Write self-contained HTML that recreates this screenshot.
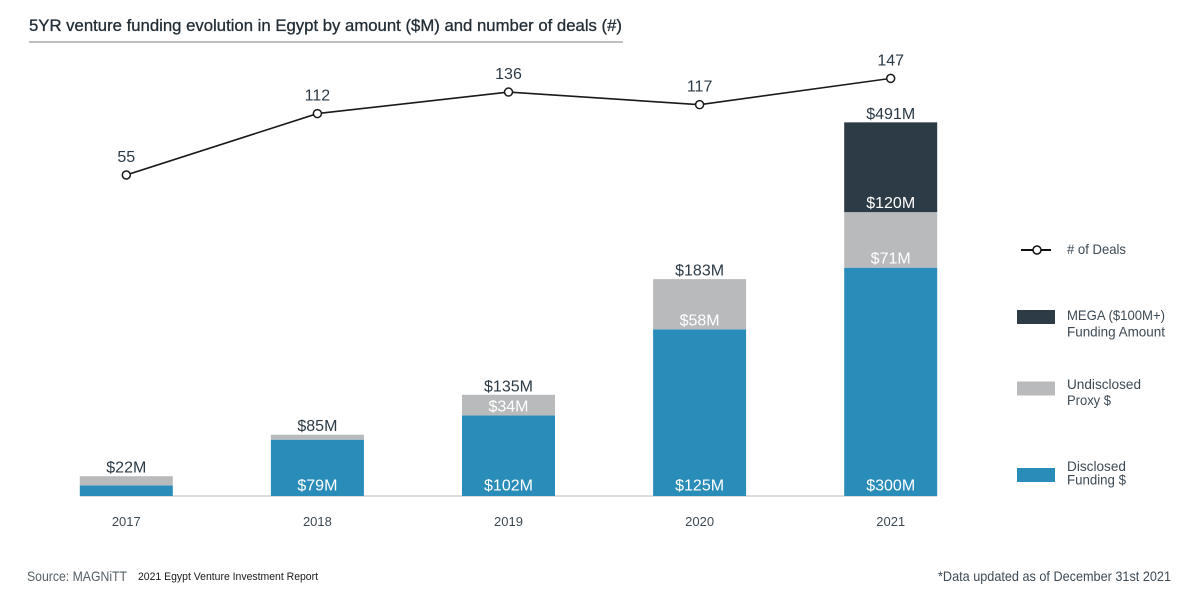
<!DOCTYPE html>
<html lang="en">
<head>
<meta charset="utf-8">
<title>5YR venture funding evolution in Egypt</title>
<style>
html,body{margin:0;padding:0;background:#fff;}
svg{display:block;}
text{font-family:"Liberation Sans",Arial,sans-serif;}
</style>
</head>
<body>
<svg id="chart" xmlns="http://www.w3.org/2000/svg" width="1200" height="599" viewBox="0 0 1200 599">
  <rect width="1200" height="599" fill="#ffffff"/>
  <text x="29" y="31" font-size="17" fill="#222d35" stroke="#222d35" stroke-width="0.3" textLength="593" lengthAdjust="spacingAndGlyphs">5YR venture funding evolution in Egypt by amount ($M) and number of deals (#)</text>
  <line x1="29" y1="42" x2="623" y2="42" stroke="#808080" stroke-width="1"/>
  <g id="plot"></g>

  <g>
    <g>
      <line x1="1021" y1="250" x2="1051" y2="250" stroke="#111" stroke-width="2"/>
      <circle cx="1037" cy="250" r="4" fill="#fff" stroke="#111" stroke-width="1.5"/>
      <text x="1067" y="254" font-size="14" fill="#3d4a54" textLength="59" lengthAdjust="spacingAndGlyphs"># of Deals</text>
    </g>
    <g>
      <rect x="1017" y="310" width="38" height="14" fill="#2d3b47"/>
      <text x="1067" y="320" font-size="14" fill="#3d4a54" textLength="98" lengthAdjust="spacingAndGlyphs">MEGA ($100M+)</text>
      <text x="1067" y="336.500" font-size="14" fill="#3d4a54" textLength="98" lengthAdjust="spacingAndGlyphs">Funding Amount</text>
    </g>
    <g>
      <rect x="1017" y="381.500" width="38" height="14" fill="#b9babc"/>
      <text x="1067" y="389" font-size="14" fill="#3d4a54" textLength="74" lengthAdjust="spacingAndGlyphs">Undisclosed</text>
      <text x="1067" y="405" font-size="14" fill="#3d4a54" textLength="44" lengthAdjust="spacingAndGlyphs">Proxy $</text>
    </g>
    <g>
      <rect x="1017" y="468" width="38" height="14" fill="#2a8cb9"/>
      <text x="1067" y="471" font-size="14" fill="#3d4a54" textLength="59" lengthAdjust="spacingAndGlyphs">Disclosed</text>
      <text x="1067" y="484.500" font-size="14" fill="#3d4a54" textLength="59" lengthAdjust="spacingAndGlyphs">Funding $</text>
    </g>
  </g>

  <text x="27" y="581" font-size="14" fill="#555f66" textLength="100" lengthAdjust="spacingAndGlyphs">Source: MAGNiTT</text>
  <text x="138" y="580" font-size="11" fill="#1a1a1a" textLength="180" lengthAdjust="spacingAndGlyphs">2021 Egypt Venture Investment Report</text>
  <text x="938" y="581" font-size="14" fill="#3d4a54" textLength="233" lengthAdjust="spacingAndGlyphs">*Data updated as of December 31st 2021</text>
</svg>

<script>
// The reference's marks are not drawn to scale with their printed labels,
// so the heights read from the picture and the printed labels are kept separately.
const years = ['2017', '2018', '2019', '2020', '2021'];

// Bar segment heights as drawn in the picture, in $M on the 2021 bar's scale.
const disclosedDrawn = [14, 74, 106, 219, 300];
const proxyDrawn = [12, 6.5, 27, 66, 73];
const megaDrawn = [0, 0, 0, 0, 118];

// Labels printed on the chart.
const disclosedLabels = [null, '$79M', '$102M', '$125M', '$300M'];
const proxyLabels = [null, null, '$34M', '$58M', '$71M'];
const megaLabels = [null, null, null, null, '$120M'];
const totalLabels = ['$22M', '$85M', '$135M', '$183M', '$491M'];

// Deal-line heights as drawn, and the counts printed above them.
const dealsDrawn = [55, 113.5, 134, 122, 147];
const dealLabels = ['55', '112', '136', '117', '147'];

const SVG_NS = 'http://www.w3.org/2000/svg';
const plot = document.getElementById('plot');
const baseY = 496;
const barWidth = 93;

function xCenter(i) { return 126.3 + i * 191.1; }
function barHeight(v) { return v * 0.761; }
function dealY(v) { return 175 - (v - 55) * 1.05; }

function make(tag, attrs, text) {
  const el = document.createElementNS(SVG_NS, tag);
  Object.keys(attrs).forEach(function (k) { el.setAttribute(k, attrs[k]); });
  if (text !== undefined) el.textContent = text;
  plot.appendChild(el);
  return el;
}

const axisLine = make('line', { x1: 80, y1: baseY, x2: 937, y2: baseY, stroke: '#cfd2d6', 'stroke-width': 1.5 });



const segments = [
  { key: 'disclosed', values: disclosedDrawn, labels: disclosedLabels, fill: '#2a8cb9', inset: 5.5 },
  { key: 'proxy', values: proxyDrawn, labels: proxyLabels, fill: '#b9babc', inset: 4 },
  { key: 'mega', values: megaDrawn, labels: megaLabels, fill: '#2d3b47', inset: 4 }
];

years.forEach(function (year, i) {
  let stack = 0;
  segments.forEach(function (seg) {
    const h = barHeight(seg.values[i]);
    const bottom = baseY - stack;
    if (h > 0) {
      const bar = make('rect', { x: xCenter(i) - barWidth / 2, y: bottom - h, width: barWidth, height: h, fill: seg.fill });
      
      
    }
    stack += h;
  });

  stack = 0;
  segments.forEach(function (seg) {
    const h = barHeight(seg.values[i]);
    const bottom = baseY - stack;
    if (seg.labels[i]) {
      const label = make('text', { x: xCenter(i), y: bottom - seg.inset, 'text-anchor': 'middle', 'font-size': 16, fill: '#ffffff' }, seg.labels[i]);
      
      
    }
    stack += h;
  });

  const total = make('text', { x: xCenter(i), y: baseY - stack - 3.5, 'text-anchor': 'middle', 'font-size': 16, fill: '#2b3a45' }, totalLabels[i]);
  
  

  const tick = make('text', { x: xCenter(i), y: 526, 'text-anchor': 'middle', 'font-size': 13, fill: '#3d4a54' }, year);
  
  
});

const dealPoints = dealsDrawn.map(function (v, i) { return xCenter(i) + ',' + dealY(v); }).join(' ');
const dealLine = make('polyline', { points: dealPoints, fill: 'none', stroke: '#1a1a1a', 'stroke-width': 1.6 });



dealsDrawn.forEach(function (v, i) {
  const point = make('circle', { cx: xCenter(i), cy: dealY(v), r: 4, fill: '#ffffff', stroke: '#1a1a1a', 'stroke-width': 1.5 });
  
  

  const label = make('text', { x: xCenter(i), y: dealY(v) - 13, 'text-anchor': 'middle', 'font-size': 16, fill: '#2b3a45' }, dealLabels[i]);
  
  
});
</script>
</body>
</html>
